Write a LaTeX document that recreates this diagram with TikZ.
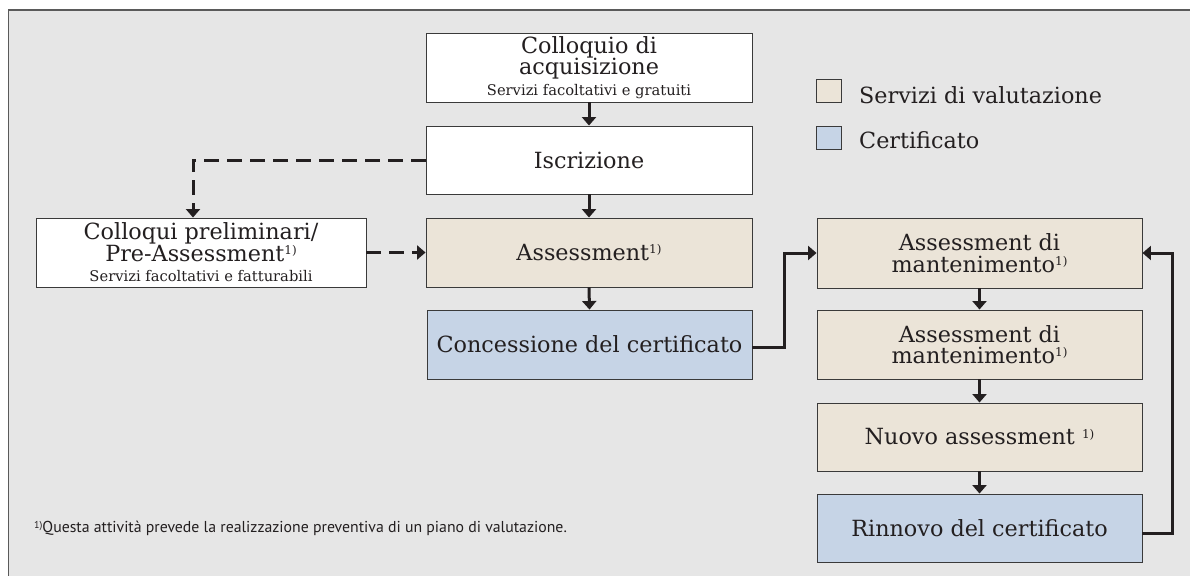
\documentclass[tikz,border=0pt]{standalone}
\usepackage{fontspec}
\setmainfont{DejaVu Serif}
\newfontfamily\notefont{PT Sans}
\usetikzlibrary{arrows.meta}
\definecolor{panelgrey}{HTML}{E6E6E6}
\definecolor{panelline}{HTML}{5A5A5A}
\definecolor{beige}{HTML}{EBE4D8}
\definecolor{certblue}{HTML}{C6D4E6}
\definecolor{ink}{HTML}{231F20}
\definecolor{boxline}{HTML}{3A3A3A}
\newcommand{\fnmark}{\raisebox{0.6ex}{\fontsize{12}{12}\selectfont 1)}}
\newcommand{\bigtxt}{\fontsize{22.3}{21.5}\selectfont}
\newcommand{\smalltxt}{\fontsize{14.7}{21}\selectfont}
\tikzset{
  box/.style={draw=boxline, line width=0.9pt, rectangle, align=center, text=ink,
    inner sep=0pt, font=\bigtxt},
  whitebox/.style={box, fill=white},
  evalbox/.style={box, fill=beige},
  certbox/.style={box, fill=certblue},
  flow/.style={draw=ink, line width=3pt, -{Triangle[width=14pt,length=8.5pt]}},
  dflow/.style={flow, dash pattern=on 15pt off 8pt},
  legendsq/.style={draw=boxline, line width=0.9pt, minimum width=25pt, minimum height=23pt, inner sep=0pt},
  legendtxt/.style={anchor=base west, text=ink, font=\fontsize{22.3}{24}\selectfont, inner sep=0pt}
}
\begin{document}
\begin{tikzpicture}[x=1pt,y=-1pt]
\useasboundingbox (0,0) rectangle (1190,575);
\begin{scope}
\clip (0,0) rectangle (1190,575);
\draw[fill=panelgrey, draw=panelline, line width=1.4pt] (8.7,10) rectangle (1200,590);
\end{scope}

% boxes
\node[whitebox, minimum width=326pt, minimum height=69pt] (acq) at (589,67.5)
  {Colloquio di\\acquisizione\\[-1pt]{\smalltxt Servizi facoltativi e gratuiti}};
\node[whitebox, minimum width=326pt, minimum height=68pt] (iscr) at (589,160) {Iscrizione};
\node[whitebox, minimum width=330pt, minimum height=69pt] (pre) at (201,252.5)
  {Colloqui preliminari/\\Pre-Assessment\fnmark\\[-1pt]{\smalltxt Servizi facoltativi e fatturabili}};
\node[evalbox, minimum width=326pt, minimum height=69pt] (ass) at (589,252.5) {Assessment\fnmark};
\node[certbox, minimum width=325pt, minimum height=69pt] (conc) at (589.5,344.5) {Concessione del certificato};
\node[evalbox, minimum width=325pt, minimum height=70pt] (m1) at (979.5,253) {Assessment di\\mantenimento\fnmark};
\node[evalbox, minimum width=325pt, minimum height=69pt] (m2) at (979.5,344.5) {Assessment di\\mantenimento\fnmark};
\node[evalbox, minimum width=325pt, minimum height=68pt] (nuovo) at (979.5,437) {Nuovo assessment \fnmark};
\node[certbox, minimum width=325pt, minimum height=68pt] (rinn) at (979.5,528) {Rinnovo del certificato};

% legend
\node[legendsq, fill=beige] (lg1) at (829,91) {};
\node[legendsq, fill=certblue] (lg2) at (829,137.5) {};
\node[legendtxt] (lt1) at (859,103) {Servizi di valutazione};
\node[legendtxt] (lt2) at (859,148) {Certificato};

% footnote
\node[anchor=base west, inner sep=0pt, text=ink, font=\notefont\fontsize{15.8}{17}\selectfont] (note) at (34,532)
  {\raisebox{0.5ex}{\fontsize{10}{10}\selectfont 1)}Questa attività prevede la realizzazione preventiva di un piano di valutazione.};

% connectors
\draw[flow] (acq.south) -- (iscr.north);
\draw[flow] (iscr.south) -- (ass.north);
\draw[flow] (ass.south) -- (conc.north);
\draw[flow] (m1.south) -- (m2.north);
\draw[flow] (m2.south) -- (nuovo.north);
\draw[flow] (nuovo.south) -- (rinn.north);
\draw[flow] ([yshift=-2.5pt]conc.east) -- ++(32,0) |- (m1.west);
\draw[flow] ([yshift=-5pt]rinn.east) -- ++(30,0) |- (m1.east);
\draw[dflow] (iscr.west) -| ([xshift=-8pt]pre.north);
\draw[dflow] (pre.east) -- (ass.west);
\end{tikzpicture}
\end{document}
